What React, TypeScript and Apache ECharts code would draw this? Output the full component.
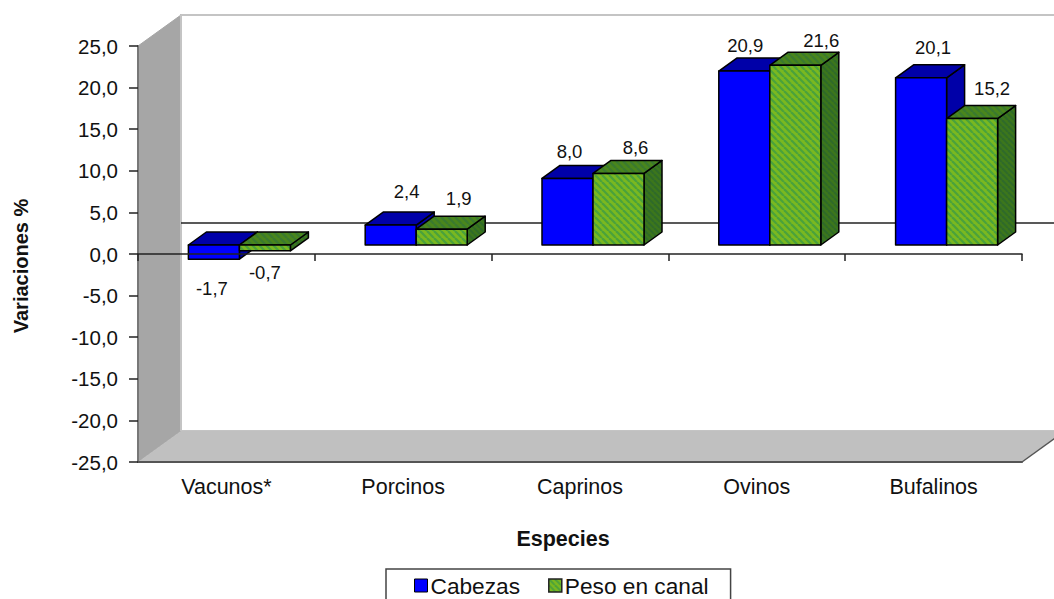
import React, { useEffect, useRef } from "react";
import * as echarts from "echarts";

const categories = ["Vacunos*", "Porcinos", "Caprinos", "Ovinos", "Bufalinos"];
const cabezas = [-1.7, 2.4, 8.0, 20.9, 20.1];
const pesoEnCanal = [-0.7, 1.9, 8.6, 21.6, 15.2];
const yTicks = { min: -25, max: 25, step: 5 };

// Label nudges relative to the bar's front-face centre / top (style, not data)
const labelShiftCabezas = [[-2, 43], [16, -34], [2, -27], [1, -26], [12, -30]];
const labelShiftPeso = [[0, 27], [17, -31], [17, -26], [26, -25], [20, -30]];

const FONT = "'Liberation Sans', Arial, sans-serif";
const WALL_DX = 43, WALL_DY = -31; // 3D floor depth
const FACE_DX = 13, FACE_DY = -9; // bar front face inside the floor depth
const BAR_DX = 18, BAR_DY = -13; // bar depth
const BAR_BAND = 0.2885; // bar width relative to category band

function hatch(bg: string, fg: string, size: number) {
  const c = document.createElement("canvas");
  c.width = size; c.height = size;
  const g = c.getContext("2d")!;
  g.fillStyle = bg; g.fillRect(0, 0, size, size);
  g.strokeStyle = fg; g.lineWidth = size * 0.32;
  for (let i = -size; i <= size * 2; i += size) {
    g.beginPath(); g.moveTo(i, 0); g.lineTo(i + size, size); g.stroke();
  }
  return { image: c, repeat: "repeat" } as any;
}

const fmt = (v: number) => v.toFixed(1).replace(".", ",");

function barRenderer(values: number[], side: 0 | 1, shifts: number[][], faces: any) {
  return (params: any, api: any) => {
    const i = api.value(0);
    const v = values[i];
    const w = api.size([1, 0])[0] * BAR_BAND;
    const zero = api.coord([i, 0]);
    const top = api.coord([i, v]);
    const cx = zero[0] + FACE_DX + (side === 0 ? -w : 0);
    const y0 = zero[1] + FACE_DY;
    const y1 = top[1] + FACE_DY;
    const yt = Math.min(y0, y1), yb = Math.max(y0, y1);
    const edge = { stroke: "#000", lineWidth: 1.5, lineJoin: "round" };
    const children: any[] = [
      {
        type: "polygon",
        shape: { points: [[cx + w, yt], [cx + w + BAR_DX, yt + BAR_DY], [cx + w + BAR_DX, yb + BAR_DY], [cx + w, yb]] },
        style: { fill: faces.side, ...edge },
      },
      {
        type: "polygon",
        shape: { points: [[cx, yt], [cx + BAR_DX, yt + BAR_DY], [cx + w + BAR_DX, yt + BAR_DY], [cx + w, yt]] },
        style: { fill: faces.top, ...edge },
      },
      { type: "rect", shape: { x: cx, y: yt, width: w, height: yb - yt }, style: { fill: faces.front, ...edge } },
      {
        type: "text",
        style: {
          x: cx + w / 2 + shifts[i][0],
          y: (v < 0 ? y0 : y1) + shifts[i][1],
          text: fmt(v),
          fill: "#111",
          font: `18.5px ${FONT}`,
          align: "center",
          verticalAlign: "middle",
        },
      },
    ];
    return { type: "group", children };
  };
}

function wallsRenderer(params: any, api: any) {
  const band = api.size([1, 0])[0];
  const x0 = api.coord([0, 0])[0] - band / 2;
  const x1 = api.coord([categories.length - 1, 0])[0] + band / 2;
  const yTop = api.coord([0, yTicks.max])[1];
  const yBot = api.coord([0, yTicks.min])[1];
  const yZero = api.coord([0, 0])[1];
  const bx0 = x0 + WALL_DX, bx1 = x1 + WALL_DX;
  const bTop = yTop + WALL_DY, bBot = yBot + WALL_DY;
  const light = "#c4c4c4";
  return {
    type: "group",
    children: [
      { type: "rect", shape: { x: bx0, y: bTop, width: bx1 - bx0, height: bBot - bTop }, style: { fill: "#fff", stroke: light, lineWidth: 2 } },
      { type: "polygon", shape: { points: [[x0, yTop], [bx0, bTop], [bx0, bBot], [x0, yBot]] }, style: { fill: "#a6a6a6", stroke: "#a6a6a6", lineWidth: 1 } },
      { type: "line", shape: { x1: bx0, y1: bTop, x2: bx0, y2: bBot }, style: { stroke: light, lineWidth: 2 } },
      { type: "polygon", shape: { points: [[x0, yBot], [bx0, bBot], [bx1, bBot], [x1, yBot]] }, style: { fill: "#c0c0c0" } },
      { type: "line", shape: { x1: x1, y1: yBot, x2: bx1, y2: bBot }, style: { stroke: "#555", lineWidth: 1.5 } },
      { type: "line", shape: { x1: bx0, y1: yZero + WALL_DY, x2: bx1, y2: yZero + WALL_DY }, style: { stroke: "#222", lineWidth: 1.5 } },
    ],
  };
}

export default function App() {
  const ref = useRef<HTMLDivElement>(null);
  useEffect(() => {
    const chart = echarts.init(ref.current!, undefined, { renderer: "svg" });
    const greenFront = hatch("#7ab820", "#4aa23c", 7);
    const greenTop = hatch("#4a861c", "#3a7a30", 7);
    const greenSide = hatch("#3c761c", "#2f6a2a", 6);
    const blue = { front: "#0000ff", top: "#0000a8", side: "#0000a8" };
    const green = { front: greenFront, top: greenTop, side: greenSide };
    const axisText = { color: "#111", fontFamily: FONT };
    const indices = categories.map((_, i) => [i]);
    chart.setOption({
      animation: false,
      backgroundColor: "#fff",
      grid: { left: 138, right: 32, top: 46, bottom: 137, containLabel: false },
      legend: {
        left: 386,
        top: 569,
        padding: [5, 22, 20, 28],
        itemGap: 28,
        itemWidth: 13,
        itemHeight: 13,
        itemStyle: { borderColor: "#000", borderWidth: 1 },
        borderColor: "#444",
        borderWidth: 1.5,
        backgroundColor: "#fff",
        textStyle: { color: "#111", fontFamily: FONT, fontSize: 22.7, padding: [0, 0, 0, -2] },
        data: [
          { name: "Cabezas", icon: "rect", itemStyle: { color: "#0000ff", borderColor: "#000", borderWidth: 1 } },
          { name: "Peso en canal", icon: "rect", itemStyle: { color: hatch("#7ab820", "#4aa23c", 6), borderColor: "#222", borderWidth: 1.5 } },
        ],
      },
      xAxis: [
        {
          type: "category",
          data: categories,
          position: "bottom",
          z: 5,
          axisLine: { onZero: false, show: true, lineStyle: { color: "#555", width: 2 } },
          axisTick: { show: false },
          axisLabel: { ...axisText, margin: 14, fontSize: 21.5 },
          name: "Especies",
          nameLocation: "middle",
          nameGap: 66,
          nameTextStyle: { fontFamily: FONT, fontWeight: "bold", fontSize: 21.5, color: "#111", padding: [0, 34, 0, 0] },
          splitLine: { show: false },
        },
        {
          type: "category",
          data: categories,
          position: "bottom",
          z: 6,
          axisLine: { onZero: true, show: true, lineStyle: { color: "#222", width: 1.5 } },
          axisTick: { show: true, length: 7, lineStyle: { color: "#222", width: 1.5 } },
          axisLabel: { show: false },
          splitLine: { show: false },
        },
      ],
      yAxis: {
        type: "value",
        min: yTicks.min,
        max: yTicks.max,
        interval: yTicks.step,
        z: 5,
        axisLine: { show: true, lineStyle: { color: "#777", width: 2 } },
        axisTick: { show: true, length: 9, lineStyle: { color: "#222", width: 1.5 } },
        axisLabel: { ...axisText, margin: 20, fontSize: 20.5, formatter: (v: number) => fmt(v) },
        splitLine: { show: false },
        name: "Variaciones %",
        nameLocation: "middle",
        nameGap: 107,
        nameTextStyle: { fontFamily: FONT, fontWeight: "bold", fontSize: 20, color: "#111", padding: [0, 24, 0, 0] },
      },
      series: [
        { type: "custom", name: "walls", z: 1, silent: true, data: [[0]], renderItem: wallsRenderer, legendHoverLink: false },
        { type: "custom", name: "Cabezas", z: 3, data: indices, encode: { x: 0 }, renderItem: barRenderer(cabezas, 0, labelShiftCabezas, blue), itemStyle: { color: "#0000ff" } },
        { type: "custom", name: "Peso en canal", z: 4, data: indices, encode: { x: 0 }, renderItem: barRenderer(pesoEnCanal, 1, labelShiftPeso, green), itemStyle: { color: "#7ab51d" } },
      ],
    });
    return () => chart.dispose();
  }, []);
  return <div ref={ref} style={{ position: "absolute", left: 0, top: 0, width: 1054, height: 599 }} />;
}
